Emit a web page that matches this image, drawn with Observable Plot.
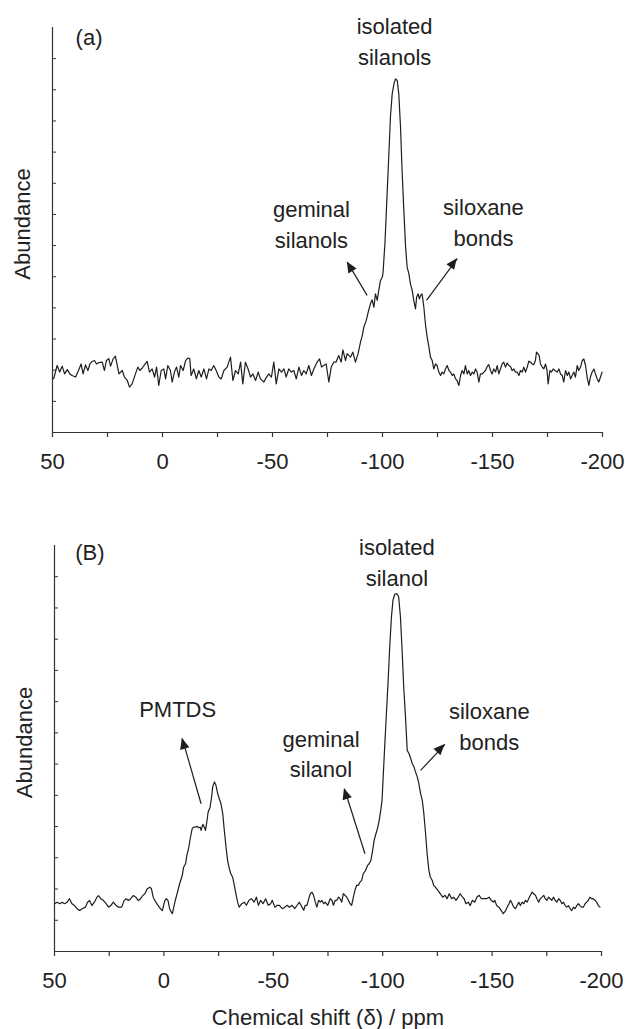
<!DOCTYPE html>
<html><head><meta charset="utf-8">
<script src="https://cdn.jsdelivr.net/npm/d3@7"></script>
<script src="https://cdn.jsdelivr.net/npm/@observablehq/plot@0.6"></script>
<style>body{margin:0;background:#fff;} #chart svg{display:block;}</style>
</head><body><div id="chart"></div>
<script>
// Spectrum (a): [chemical shift ppm, abundance]
const spectrumA = [[50.0,1.72],[49.4,1.74],[47.9,2.15],[46.7,1.94],[45.6,2.13],[44.5,1.88],[43.3,2.02],[42.1,1.88],[41.1,1.83],[39.5,1.78],[38.0,2.02],[37.0,2.20],[36.1,1.88],[35.0,2.17],[33.9,1.99],[33.0,2.20],[32.0,2.28],[30.9,2.31],[30.0,2.20],[29.0,2.24],[27.4,2.26],[26.4,1.99],[25.5,2.31],[24.4,2.37],[23.6,2.13],[22.4,2.37],[21.4,2.45],[19.8,1.88],[18.3,1.99],[17.3,1.78],[16.0,1.67],[15.0,1.46],[13.8,1.56],[12.3,1.88],[11.2,2.10],[10.3,1.99],[9.2,2.07],[8.2,2.17],[7.0,2.28],[5.9,1.94],[4.7,2.04],[3.6,1.78],[2.7,2.10],[1.7,1.51],[0.6,1.99],[-0.6,2.04],[-1.4,1.72],[-2.4,2.15],[-3.6,1.99],[-4.4,1.62],[-5.5,1.96],[-6.4,2.10],[-7.4,1.78],[-8.2,2.15],[-9.4,1.99],[-10.5,2.31],[-11.5,2.39],[-12.4,2.37],[-13.0,1.83],[-14.2,2.04],[-15.4,1.72],[-16.5,1.99],[-17.6,1.78],[-18.8,2.04],[-20.0,1.72],[-21.1,2.04],[-22.1,1.99],[-23.3,2.15],[-24.4,1.99],[-25.6,1.78],[-26.7,1.72],[-27.9,1.99],
[-29.4,2.10],[-30.9,2.42],[-32.0,1.67],[-33.2,1.99],[-34.4,1.88],[-35.5,2.26],[-36.5,1.56],[-37.7,2.26],[-38.9,2.04],[-40.0,1.78],[-41.1,1.88],[-42.3,1.67],[-43.5,1.94],[-44.5,1.72],[-46.1,1.62],[-46.8,1.72],[-48.3,1.88],[-49.5,1.78],[-50.6,2.26],[-51.7,1.56],[-52.9,2.04],[-54.1,1.94],[-55.2,2.04],[-56.2,1.78],[-57.4,2.04],[-58.6,1.94],[-59.7,1.99],[-60.8,1.72],[-62.0,2.10],[-63.2,1.83],[-64.2,1.99],[-65.3,1.88],[-66.5,2.15],[-67.7,1.83],[-68.8,2.04],[-70.3,2.26],[-71.4,2.36],[-72.3,2.10],[-73.3,2.15],[-74.4,2.20],[-75.6,1.62],[-76.7,2.10],[-77.9,2.26],[-78.9,2.26],[-80.1,2.47],[-81.2,2.26],[-82.0,2.65],[-83.2,2.31],[-83.9,2.53],[-85.5,2.42],[-86.5,2.58],[-87.7,2.26],[-88.9,2.53],[-90.0,2.90],[-90.8,3.11],[-91.5,3.38],[-92.6,3.59],[-93.5,3.86],[-94.5,4.13],[-95.3,4.26],[-96.1,4.02],[-96.8,4.45],[-97.6,4.24],[-98.3,4.56],[-99.1,4.88],[-99.9,4.99],[-100.2,5.09],[-101.1,6.06],[-102.1,7.66],[-102.9,8.95],[-103.6,10.12],[-104.4,10.87],[-105.2,11.19],[-105.9,11.35],[-106.7,11.30],[-107.4,10.87],[-108.2,9.80],[-108.9,8.41],[-109.7,7.13],[-110.5,5.95],[-111.2,5.31],[-112.0,5.09],[-112.7,4.77],[-113.5,4.56],[-114.2,4.24],[-115.0,3.97],[-115.5,4.34],[-116.2,4.45],[-116.8,4.29],[-117.3,4.40],[-118.0,4.45],[-118.8,4.02],[-119.5,3.49],[-120.3,3.06],[-121.1,2.74],[-121.8,2.42],[-122.6,2.31],[-123.3,2.04],
[-124.1,2.20],[-124.8,2.15],[-125.6,1.94],[-126.4,1.83],[-127.1,1.94],[-127.9,1.88],[-128.6,2.04],[-129.4,2.15],[-130.2,1.99],[-130.9,1.94],[-131.7,1.83],[-132.4,1.88],[-133.2,1.72],[-133.9,1.67],[-134.7,1.51],[-135.5,1.83],[-136.2,1.99],[-137.0,1.88],[-137.7,2.15],[-138.5,1.88],[-139.2,1.99],[-140.0,1.83],[-140.8,1.94],[-141.5,1.88],[-142.3,2.04],[-143.0,1.94],[-143.8,1.62],[-144.5,1.88],[-145.3,1.88],[-146.1,1.94],[-146.8,1.99],[-147.6,2.12],[-148.3,2.18],[-149.1,1.99],[-149.8,1.88],[-150.6,2.04],[-151.4,1.94],[-152.1,2.15],[-152.9,1.88],[-153.6,2.04],[-154.4,2.20],[-155.1,2.26],[-155.9,2.10],[-156.7,2.23],[-157.4,2.15],[-158.2,2.12],[-158.9,1.99],[-159.7,2.04],[-160.4,1.94],[-161.2,1.94],[-162.0,1.83],[-162.7,1.99],[-163.5,1.94],[-164.2,2.10],[-165.0,1.94],[-165.8,2.10],[-166.5,2.29],[-167.3,2.26],[-168.0,2.20],[-168.8,2.18],[-169.5,2.31],[-170.0,2.58],[-170.6,2.53],[-171.2,2.47],[-171.8,2.20],[-172.6,2.10],[-173.3,2.04],[-174.1,2.20],[-174.8,1.99],[-175.3,1.56],[-176.1,1.99],[-176.8,1.94],[-177.6,2.04],[-178.3,1.99],[-179.4,1.94],[-180.2,2.04],[-180.9,1.88],[-181.7,1.83],[-182.4,1.62],[-183.2,1.99],[-184.0,1.83],[-184.7,1.94],[-185.5,1.72],[-186.2,1.83],[-187.0,1.94],[-187.7,1.78],[-188.5,2.15],[-189.2,1.99],[-190.0,2.10],[-190.8,2.31],[-191.5,2.36],[-192.3,2.15],[-193.0,1.78],[-193.8,1.51],[-194.5,1.78],[-195.3,1.94],[-196.1,2.04],[-196.8,1.88],[-197.6,1.72],[-198.3,1.62],[-199.1,1.78],[-199.8,1.94]];

// Spectrum (B): [chemical shift ppm, abundance]
const spectrumB = [[50.0,1.53],[48.8,1.58],[47.6,1.53],[46.5,1.58],[45.5,1.53],[44.2,1.58],[43.2,1.69],[42.0,1.53],[40.9,1.47],[39.7,1.37],[38.5,1.31],[37.4,1.37],[35.9,1.42],[34.9,1.58],[34.0,1.63],[32.9,1.47],[31.8,1.58],[30.6,1.74],[29.9,1.79],[28.8,1.69],[27.6,1.63],[26.4,1.53],[25.3,1.42],[24.3,1.47],[23.1,1.58],[21.8,1.47],[20.8,1.42],[19.3,1.42],[18.2,1.63],[17.3,1.69],[16.2,1.63],[15.2,1.69],[14.0,1.79],[12.8,1.74],[11.7,1.63],[10.7,1.69],[9.7,1.79],[8.7,1.85],[7.6,2.01],[6.4,2.06],[5.7,2.01],[4.9,1.74],[3.7,1.58],[2.6,1.47],[1.6,1.37],[0.7,1.31],[-0.4,1.63],[-1.1,1.69],[-1.9,1.63],[-2.6,1.37],[-3.4,1.26],[-3.9,1.21],[-4.5,1.42],[-5.4,1.69],[-6.4,1.95],[-7.2,2.17],[-8.4,2.44],[-9.0,2.70],[-9.9,2.81],[-10.5,3.08],[-11.4,3.34],[-12.0,3.61],[-12.9,3.93],[-13.5,3.98],[-14.5,3.98],[-15.1,4.01],[-16.0,3.96],[-16.6,3.98],[-17.0,3.88],[-17.8,4.07],[-18.5,3.98],[-19.0,3.88],[-19.6,4.14],[-20.2,4.46],[-21.1,4.62],[-21.7,4.89],[-22.3,5.27],[-23.1,5.43],[-23.8,5.32],[-24.6,5.05],[-25.3,4.89],[-26.1,4.73],[-26.9,4.41],[-27.6,3.88],[-28.4,3.34],[-29.1,2.92],[-29.9,2.65],[-30.6,2.49],[-31.4,2.38],[-32.2,2.12],[-32.9,1.85],[-33.7,1.58],[-34.4,1.42],
[-35.6,1.53],[-36.7,1.58],[-37.7,1.48],[-38.9,1.64],[-40.1,1.69],[-41.2,1.58],[-42.3,1.74],[-43.2,1.48],[-44.2,1.64],[-45.3,1.53],[-46.5,1.69],[-47.7,1.48],[-48.8,1.53],[-49.5,1.64],[-50.7,1.42],[-51.8,1.48],[-52.8,1.48],[-54.1,1.37],[-55.3,1.42],[-56.3,1.48],[-57.4,1.42],[-58.6,1.48],[-59.8,1.37],[-60.9,1.48],[-61.9,1.58],[-63.1,1.42],[-63.9,1.32],[-64.6,1.48],[-65.4,1.48],[-66.2,1.69],[-66.9,1.85],[-67.7,1.90],[-68.4,1.80],[-69.2,1.58],[-69.9,1.42],[-70.7,1.64],[-71.5,1.58],[-72.2,1.64],[-73.0,1.53],[-73.7,1.58],[-74.9,1.48],[-76.0,1.69],[-76.8,1.64],[-77.5,1.48],[-78.3,1.64],[-79.0,1.64],[-79.8,1.74],[-80.5,1.69],[-81.3,1.58],[-82.0,1.85],[-82.8,1.80],[-83.6,1.74],[-84.3,1.64],[-85.1,1.53],[-85.8,1.48],[-86.6,1.74],[-87.3,1.96],[-88.1,2.12],[-88.9,2.12],[-89.6,2.22],[-90.4,2.28],[-91.1,2.49],[-92.2,2.60],[-93.1,2.76],[-93.8,2.81],[-94.6,2.92],[-95.4,3.24],[-96.1,3.56],[-96.9,3.77],[-97.6,3.93],[-98.4,4.20],[-99.1,4.52],[-99.7,4.84],[-100.3,5.70],[-100.9,6.55],[-101.7,7.62],[-102.5,8.69],[-103.2,9.75],[-104.0,10.72],[-104.7,11.25],[-105.5,11.44],[-106.4,11.46],[-107.3,11.36],[-108.1,10.72],[-108.8,9.75],[-109.6,8.47],[-110.5,7.40],[-111.2,6.44],[-112.0,6.34],[-112.8,6.18],[-113.5,6.02],[-114.3,5.91],[-115.0,5.75],[-115.8,5.59],[-116.5,5.38],[-117.3,5.06],[-118.1,4.84],[-118.8,4.42],[-119.6,3.77],[-120.3,3.13],[-121.1,2.60],[-121.8,2.38],[-122.6,2.28],[-123.3,2.12],[-124.1,2.06],
[-126.3,1.85],[-127.4,1.74],[-128.5,1.80],[-129.4,1.69],[-130.4,1.85],[-131.5,1.69],[-132.4,1.74],[-133.5,1.64],[-134.5,1.74],[-135.4,1.85],[-136.5,1.74],[-137.2,1.69],[-138.0,1.53],[-139.1,1.58],[-140.0,1.47],[-141.0,1.64],[-142.1,1.58],[-143.0,1.74],[-144.1,1.80],[-145.1,1.69],[-146.3,1.69],[-147.5,1.69],[-148.6,1.74],[-149.6,1.64],[-150.6,1.58],[-151.2,1.64],[-152.1,1.47],[-153.1,1.42],[-154.2,1.31],[-155.1,1.21],[-156.2,1.31],[-156.9,1.42],[-157.7,1.53],[-158.4,1.64],[-159.2,1.53],[-159.9,1.42],[-160.7,1.37],[-161.4,1.47],[-162.2,1.58],[-162.9,1.47],[-163.7,1.58],[-164.5,1.53],[-165.2,1.64],[-166.0,1.58],[-166.7,1.69],[-167.5,1.80],[-168.3,1.90],[-169.0,1.85],[-169.8,1.80],[-170.5,1.69],[-171.3,1.58],[-172.0,1.69],[-172.8,1.74],[-173.6,1.80],[-174.3,1.69],[-175.1,1.64],[-175.8,1.74],[-176.6,1.69],[-177.3,1.64],[-178.1,1.74],[-178.8,1.64],[-179.6,1.58],[-180.4,1.69],[-181.1,1.64],[-181.9,1.53],[-182.6,1.58],[-183.4,1.47],[-184.1,1.42],[-184.9,1.47],[-185.7,1.37],[-186.4,1.31],[-187.2,1.42],[-187.9,1.37],[-188.7,1.47],[-189.4,1.53],[-190.2,1.47],[-190.9,1.42],[-191.7,1.42],[-192.5,1.53],[-193.2,1.58],[-194.0,1.64],[-194.7,1.74],[-195.5,1.69],[-196.2,1.69],[-197.0,1.64],[-197.8,1.58],[-198.5,1.47],[-199.3,1.42]];

// Axis ticks
const xTicks = [50, 25, 0, -25, -50, -75, -100, -125, -150, -175, -200];
const xLabelStep = 50;
const yTicks = [1, 2, 3, 4, 5, 6, 7, 8, 9, 10, 11, 12];
const yDomain = [0, 13];
const xDomain = [50, -200];

// Annotations (a)
const notesA_text = ["isolated\nsilanols", "geminal\nsilanols", "siloxane\nbonds"];
const notesA_x = [-105.5, -67.7, -145.9];
const notesA_y = [12.6, 6.74, 6.79];
const arrowsA_from = [[-93.0, 4.40], [-120.0, 4.24]];
const arrowsA_to = [[-84.0, 5.47], [-134.0, 5.58]];
const panelA = {text: "(a)", x: 39.5, y: 12.68};

// Annotations (B)
const notesB_text = ["isolated\nsilanol", "PMTDS", "geminal\nsilanol", "siloxane\nbonds"];
const notesB_x = [-106.5, -6.3, -71.8, -148.7];
const notesB_y = [12.52, 7.82, 6.38, 7.26];
const arrowsB_from = [[-17.0, 4.73], [-91.9, 3.13], [-117.3, 5.80]];
const arrowsB_to = [[-8.4, 6.82], [-82.5, 5.21], [-128.5, 6.63]];
const panelB = {text: "(B)", x: 40.5, y: 12.76};

const yLabel = "Abundance";
const xTitle = "Chemical shift (\u03b4) / ppm";

const INK = "#1e1e1e";
const FONT = "'Liberation Sans', Arial, Helvetica, sans-serif";

function arrowHeads(arrows) {
  return (index, scales) => {
    const g = d3.create("svg:g").attr("fill", INK);
    for (const a of arrows) {
      const x1 = scales.x(a.x1), y1 = scales.y(a.y1), x2 = scales.x(a.x2), y2 = scales.y(a.y2);
      const dx = x2 - x1, dy = y2 - y1, L = Math.hypot(dx, dy);
      const ux = dx / L, uy = dy / L, len = 11, hw = 4.8;
      const bx = x2 - ux * len, by = y2 - uy * len;
      g.append("path").attr("d", `M${x2},${y2}L${bx - uy * hw},${by + ux * hw}L${bx + uy * hw},${by - ux * hw}Z`);
    }
    return g.node();
  };
}

function panel({spectrum, height, marginTop, marginBottom, marginLeft, marginRight, label, texts, xs, ys, from, to, title}) {
  const notes = texts.map((t, i) => ({t, x: xs[i], y: ys[i]}));
  const arrows = from.map((f, i) => ({x1: f[0], y1: f[1], x2: to[i][0], y2: to[i][1]}));
  const data = spectrum.map(([x, y]) => ({x, y}));
  const marks = [
    Plot.ruleX([xDomain[0]], {stroke: "#333", strokeWidth: 1.2}),
    Plot.ruleY([yDomain[0]], {stroke: "#333", strokeWidth: 1.2}),
    Plot.axisX({ticks: xTicks, tickSize: 5, tickPadding: 16, stroke: "#333", strokeWidth: 1.2,
      tickFormat: d => d % xLabelStep === 0 ? String(d) : "", label: null, fill: "#222"}),
    Plot.axisY({ticks: yTicks, tickSize: 4, dx: 4, stroke: "#333", tickFormat: () => "", label: null}),
    Plot.text([yLabel], {text: d => d, frameAnchor: "left", textAnchor: "middle", rotate: -90, dx: -30, dy: -6, fill: "#222"}),
    Plot.line(data, {x: "x", y: "y", stroke: INK, strokeWidth: 1.2, strokeLinejoin: "round"}),
    Plot.text([label], {x: "x", y: "y", text: "text", textAnchor: "start", fill: "#222"}),
    Plot.text(notes, {x: "x", y: "y", text: "t", lineHeight: 1.4, fill: "#222"}),
    Plot.link(arrows, {x1: "x1", y1: "y1", x2: "x2", y2: "y2", stroke: INK, strokeWidth: 1.2}),
    arrowHeads(arrows)
  ];
  if (title) marks.push(Plot.text([title], {text: d => d, frameAnchor: "bottom", dy: 73, fill: "#222"}));
  return Plot.plot({
    width: 625, height, marginTop, marginBottom, marginLeft, marginRight,
    x: {domain: xDomain},
    y: {domain: yDomain},
    style: {fontFamily: FONT, fontSize: "22px", background: "#fff", color: "#222", overflow: "visible"},
    marks
  });
}

const chart = document.getElementById("chart");
chart.append(panel({spectrum: spectrumA, height: 490, marginTop: 27, marginBottom: 58, marginLeft: 52, marginRight: 23,
  label: panelA, texts: notesA_text, xs: notesA_x, ys: notesA_y, from: arrowsA_from, to: arrowsA_to}));
chart.append(panel({spectrum: spectrumB, height: 539, marginTop: 55, marginBottom: 78, marginLeft: 54, marginRight: 24,
  label: panelB, texts: notesB_text, xs: notesB_x, ys: notesB_y, from: arrowsB_from, to: arrowsB_to, title: xTitle}));
</script>
</body></html>
